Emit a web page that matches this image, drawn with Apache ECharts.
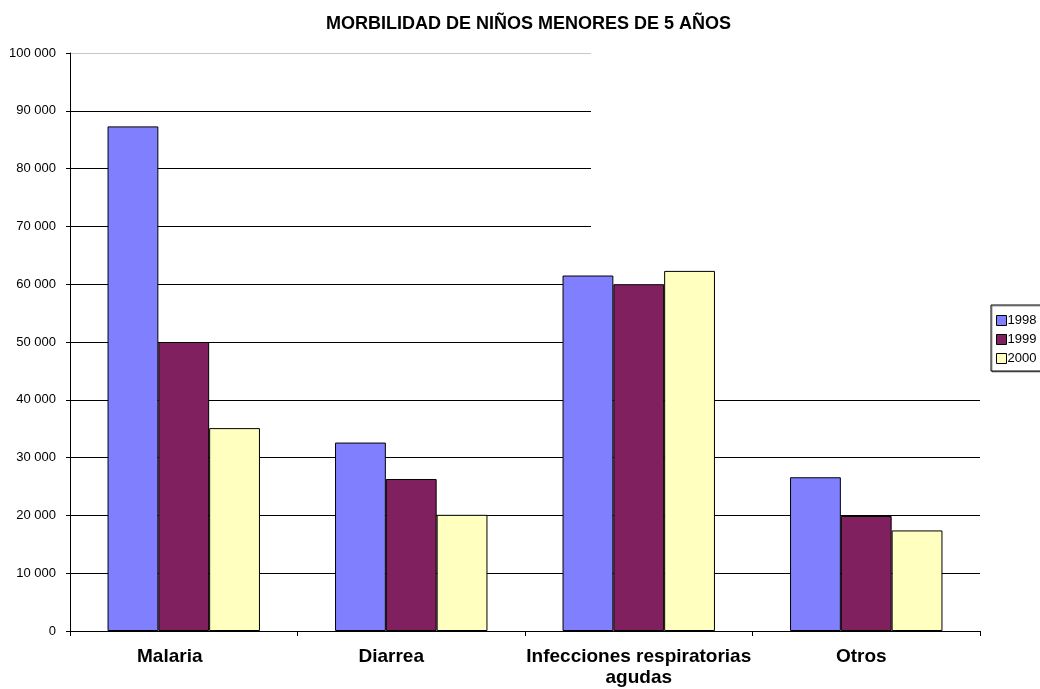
<!DOCTYPE html>
<html style="height: 100%">
<head>
    <meta charset="utf-8">
</head>
<body style="margin:0; height:100%">
<div id="container" style="width:1040px; height:689px"></div>
<script type="text/javascript" src="https://cdn.jsdelivr.net/npm/echarts@6/dist/echarts.min.js"></script>
<script type="text/javascript">
    // datos
    var categorias = ['Malaria', 'Diarrea', 'Infecciones respiratorias\nagudas', 'Otros'];
    var anios = ['1998', '1999', '2000'];
    var datos1998 = [87300, 32600, 61500, 26600];
    var datos1999 = [50000, 26300, 60000, 19900];
    var datos2000 = [35100, 20100, 62300, 17400];
    var colores = ['#8080ff', '#80205f', '#ffffc0'];

    var dom = document.getElementById('container');
    var myChart = echarts.init(dom);
    var fuente = '"Liberation Sans", Arial, sans-serif';

    // lineas de la cuadricula: la de 100 000 es gris claro
    var coloresLineas = [];
    for (var i = 0; i <= 10; i++) {
        coloresLineas.push(i == 10 ? '#c8c8c8' : '#000');
    }

    // las etiquetas del original no quedan del todo centradas
    var estiloEtiqueta = { fontSize: 19, fontWeight: 'bold', color: '#000', lineHeight: 21, fontFamily: fuente };
    var ricos = {
        e0: Object.assign({ padding: [0, 28, 0, 0] }, estiloEtiqueta),
        e1: Object.assign({ padding: [0, 40, 0, 0] }, estiloEtiqueta),
        e3: Object.assign({ padding: [0, 10, 0, 0] }, estiloEtiqueta)
    };

    function serie(nombre, valores, idx) {
        return {
            name: nombre,
            type: 'bar',
            data: valores,
            barGap: 0,
            barCategoryGap: '33%',
            z: 3,
            itemStyle: {
                color: colores[idx],
                borderColor: '#000',
                borderWidth: 1
            }
        };
    }

    var option = {
        animation: false,
        textStyle: { fontFamily: fuente },
        title: {
            text: 'MORBILIDAD DE NIÑOS MENORES DE 5 AÑOS',
            left: 321,
            top: 10,
            textStyle: { fontSize: 18, fontWeight: 'bold', color: '#000', fontFamily: fuente }
        },
        legend: {
            data: anios,
            orient: 'vertical',
            left: 991,
            top: 305,
            padding: [9, 10, 6, 5],
            itemGap: 6,
            itemWidth: 10,
            itemHeight: 10,
            icon: 'rect',
            borderColor: '#000',
            borderWidth: 1,
            backgroundColor: '#fff',
            shadowColor: 'rgba(0,0,0,0.4)',
            shadowOffsetX: 1,
            shadowOffsetY: 1,
            itemStyle: { borderColor: '#000', borderWidth: 1 },
            textStyle: { fontSize: 13, color: '#000', fontFamily: fuente, padding: [0, 0, 0, -4] }
        },
        grid: {
            left: 70,
            right: 60,
            top: 53,
            bottom: 58
        },
        // tapa el tramo derecho de las lineas superiores, como en el original
        graphic: [{
            type: 'rect',
            shape: { x: 591, y: 45, width: 389, height: 300 },
            style: { fill: '#fff' },
            z: 1,
            silent: true
        }],
        xAxis: {
            type: 'category',
            data: categorias,
            axisLine: { lineStyle: { color: '#000', width: 1 } },
            axisTick: { show: true, interval: 0, length: 5, lineStyle: { color: '#000' } },
            axisLabel: {
                interval: 0,
                fontSize: 19,
                fontWeight: 'bold',
                color: '#000',
                margin: 15,
                lineHeight: 21,
                fontFamily: fuente,
                formatter: function (v, idx) {
                    return ricos['e' + idx] ? '{e' + idx + '|' + v + '}' : v;
                },
                rich: ricos
            }
        },
        yAxis: {
            type: 'value',
            min: 0,
            max: 100000,
            interval: 10000,
            axisLine: { show: true, lineStyle: { color: '#000', width: 1 } },
            axisTick: { show: true, length: 4, lineStyle: { color: '#000' } },
            axisLabel: {
                fontSize: 13,
                color: '#000',
                margin: 14,
                fontFamily: fuente,
                formatter: function (v) {
                    return String(v).replace(/\B(?=(\d{3})+(?!\d))/g, ' ');
                }
            },
            splitLine: { show: true, lineStyle: { color: coloresLineas, width: 1 } }
        },
        series: [
            serie('1998', datos1998, 0),
            serie('1999', datos1999, 1),
            serie('2000', datos2000, 2)
        ]
    };

    myChart.setOption(option);
</script>
</body>
</html>
